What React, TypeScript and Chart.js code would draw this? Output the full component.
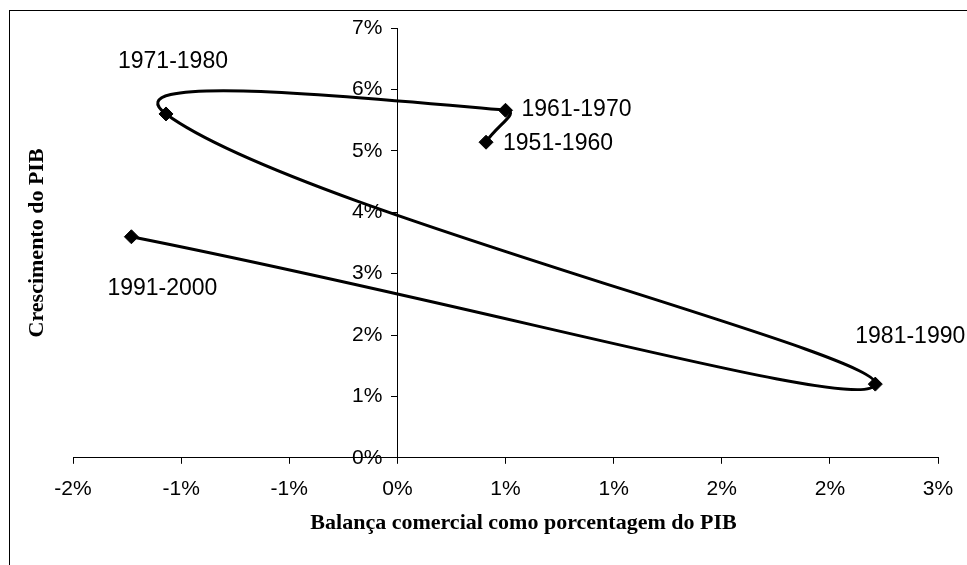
import React, { useEffect, useRef } from 'react';
import { Chart, registerables } from 'chart.js';

Chart.register(...registerables);

// ---- data ----
const periods = ['1951-1960', '1961-1970', '1971-1980', '1981-1990', '1991-2000'];
const tradeBalancePct = [0.41, 0.5, -1.07, 2.21, -1.23];
const gdpGrowthPct = [5.14, 5.66, 5.6, 1.2, 3.6];
const xTickLabels = ['-2%', '-1%', '-1%', '0%', '1%', '1%', '2%', '2%', '3%'];
const yTickLabels = ['0%', '1%', '2%', '3%', '4%', '5%', '6%', '7%'];
const xTitle = 'Balança comercial como porcentagem do PIB';
const yTitle = 'Crescimento do PIB';

// ---- label placement (style only, pixels relative to each point) ----
const labelOffsets: [number, number][] = [
  [72, 1],
  [71, -1],
  [7, -52],
  [35, -47],
  [31, 52],
];

const SANS = '"Liberation Sans", Arial, sans-serif';
const SERIF = '"Liberation Serif", "Times New Roman", serif';

const annotatePlugin = {
  id: 'annotate',
  afterDatasetsDraw(chart: any) {
    const ctx = chart.ctx;
    const meta = chart.getDatasetMeta(0);
    const ca = chart.chartArea;
    const xs = chart.scales.x;
    const ys = chart.scales.y;
    ctx.save();
    ctx.fillStyle = '#000';

    // data labels
    ctx.font = `23px ${SANS}`;
    ctx.textAlign = 'center';
    ctx.textBaseline = 'middle';
    meta.data.forEach((pt: any, i: number) => {
      const [dx, dy] = labelOffsets[i];
      ctx.fillText(periods[i], pt.x + dx, pt.y + dy);
    });

    // y tick labels, left of the crossing axis
    ctx.font = `21px ${SANS}`;
    ctx.textAlign = 'right';
    const axisX = xs.getPixelForValue(0);
    ys.ticks.forEach((t: any, i: number) => {
      ctx.fillText(yTickLabels[i], axisX - 15, ys.getPixelForValue(t.value));
    });

    // x title
    ctx.font = `bold 22px ${SERIF}`;
    ctx.textAlign = 'center';
    ctx.fillText(xTitle, (ca.left + ca.right) / 2 + 18, ca.bottom + 66);

    // y title
    ctx.translate(27, (ca.top + ca.bottom) / 2);
    ctx.rotate(-Math.PI / 2);
    ctx.fillText(yTitle, 0, 0);
    ctx.restore();
  },
};

export default function App() {
  const canvasRef = useRef<HTMLCanvasElement | null>(null);

  useEffect(() => {
    if (!canvasRef.current) return;
    const points = tradeBalancePct.map((x, i) => ({ x, y: gdpGrowthPct[i] }));
    const chart = new Chart(canvasRef.current, {
      type: 'scatter',
      data: {
        datasets: [
          {
            data: points,
            showLine: true,
            tension: 0.5,
            borderColor: '#000',
            borderWidth: 3,
            pointStyle: 'rectRot',
            pointRadius: 7,
            pointHoverRadius: 7,
            pointBackgroundColor: '#000',
            pointBorderColor: '#000',
            pointBorderWidth: 1,
          },
        ],
      },
      options: {
        animation: false,
        responsive: true,
        maintainAspectRatio: false,
        layout: { padding: { left: 63, right: 29, top: 17, bottom: 50 } },
        plugins: {
          legend: { display: false },
          tooltip: { enabled: false },
        },
        scales: {
          x: {
            type: 'linear',
            position: 'bottom',
            min: -1.5,
            max: 2.5,
            grid: { drawOnChartArea: false, drawTicks: true, tickLength: 6, color: '#000' },
            border: { display: true, color: '#000', width: 1 },
            ticks: {
              stepSize: 0.5,
              padding: 13,
              color: '#000',
              font: { family: SANS, size: 21 },
              maxRotation: 0,
              autoSkip: false,
              callback: (_v: any, i: number) => xTickLabels[i],
            },
          },
          y: {
            type: 'linear',
            position: { x: 0 } as any,
            min: 0,
            max: 7,
            grid: { drawOnChartArea: false, drawTicks: true, tickLength: 6, color: '#000' },
            border: { display: true, color: '#000', width: 1 },
            ticks: {
              stepSize: 1,
              display: false,
            },
          },
        },
      },
      plugins: [annotatePlugin],
    });
    return () => chart.destroy();
  }, []);

  return (
    <div
      style={{
        position: 'fixed',
        left: 9,
        top: 10,
        width: 958,
        height: 555,
        boxSizing: 'border-box',
        borderLeft: '1px solid #000',
        borderTop: '1px solid #000',
        background: '#fff',
      }}
    >
      <div style={{ position: 'relative', width: '100%', height: '100%' }}>
        <canvas ref={canvasRef} />
      </div>
    </div>
  );
}
